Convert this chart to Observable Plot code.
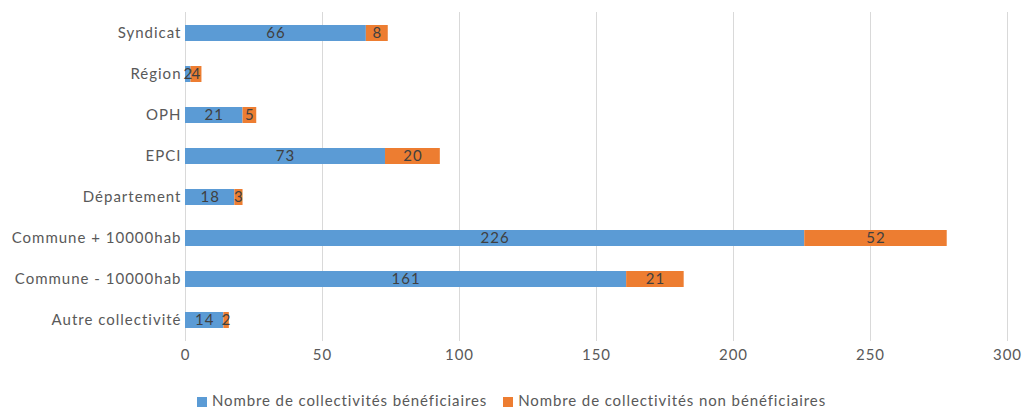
<!DOCTYPE html>
<html>
<head>
<meta charset="utf-8">
<script src="https://cdn.jsdelivr.net/npm/d3@7"></script>
<script src="https://cdn.jsdelivr.net/npm/@observablehq/plot@0.6"></script>
<style>
  body { margin: 0; background: #fff; font-family: Lato, "Open Sans", sans-serif; }
  #wrap { position: relative; width: 1023px; height: 409px; }
  #legend { position: absolute; top: 391px; left: 0; width: 1023px; text-align: center; font-size: 15px; letter-spacing: 0.9px; color: #595959; white-space: nowrap; line-height: 18px; }
  #legend span.sw { display: inline-block; width: 10px; height: 10px; margin-right: 5px; vertical-align: -1px; }
  #legend span.item { margin: 0 8px; }
</style>
</head>
<body>
<div id="wrap">
  <div id="chart"></div>
  <div id="legend"></div>
</div>
<script>
const categories = ["Syndicat", "Région", "OPH", "EPCI", "Département", "Commune + 10000hab", "Commune - 10000hab", "Autre collectivité"];
const beneficiaires = [66, 2, 21, 73, 18, 226, 161, 14];
const nonBeneficiaires = [8, 4, 5, 20, 3, 52, 21, 2];
const seriesNames = ["Nombre de collectivités bénéficiaires", "Nombre de collectivités non bénéficiaires"];
const seriesColors = ["#5B9BD5", "#ED7D31"];
const xTicks = [0, 50, 100, 150, 200, 250, 300];

const data = [];
categories.forEach((c, i) => {
  data.push({cat: c, series: seriesNames[0], value: beneficiaires[i]});
  data.push({cat: c, series: seriesNames[1], value: nonBeneficiaires[i]});
});

const chart = Plot.plot({
  width: 1023,
  height: 370,
  marginTop: 12,
  marginBottom: 29,
  marginLeft: 185,
  marginRight: 16,
  style: {fontFamily: "Lato, 'Open Sans', sans-serif", fontSize: "15px", color: "#595959", background: "#fff", letterSpacing: "1px"},
  x: {domain: [0, 300], ticks: xTicks, grid: false, label: null},
  y: {domain: categories, paddingInner: 0.6, paddingOuter: 0.3, label: null},
  color: {domain: seriesNames, range: seriesColors},
  marks: [
    Plot.gridX(xTicks, {stroke: "#d9d9d9", strokeOpacity: 1, strokeWidth: 1}),
    Plot.barX(data, Plot.stackX({x: "value", y: "cat", fill: "series", order: seriesNames})),
    Plot.text(data, Plot.stackX({x: "value", y: "cat", z: "series", order: seriesNames, text: d => String(d.value), fill: "#404040", fontSize: 15})),
    Plot.axisX(xTicks, {tickSize: 0, tickPadding: 8, fontSize: 15, fill: "#595959", label: null}),
    Plot.axisY({tickSize: 0, tickPadding: 4, fontSize: 15, fill: "#595959", label: null})
  ]
});
document.getElementById("chart").appendChild(chart);

const legend = document.getElementById("legend");
seriesNames.forEach((n, i) => {
  const item = document.createElement("span");
  item.className = "item";
  const sw = document.createElement("span");
  sw.className = "sw";
  sw.style.background = seriesColors[i];
  item.appendChild(sw);
  item.appendChild(document.createTextNode(n));
  legend.appendChild(item);
});
</script>
</body>
</html>
